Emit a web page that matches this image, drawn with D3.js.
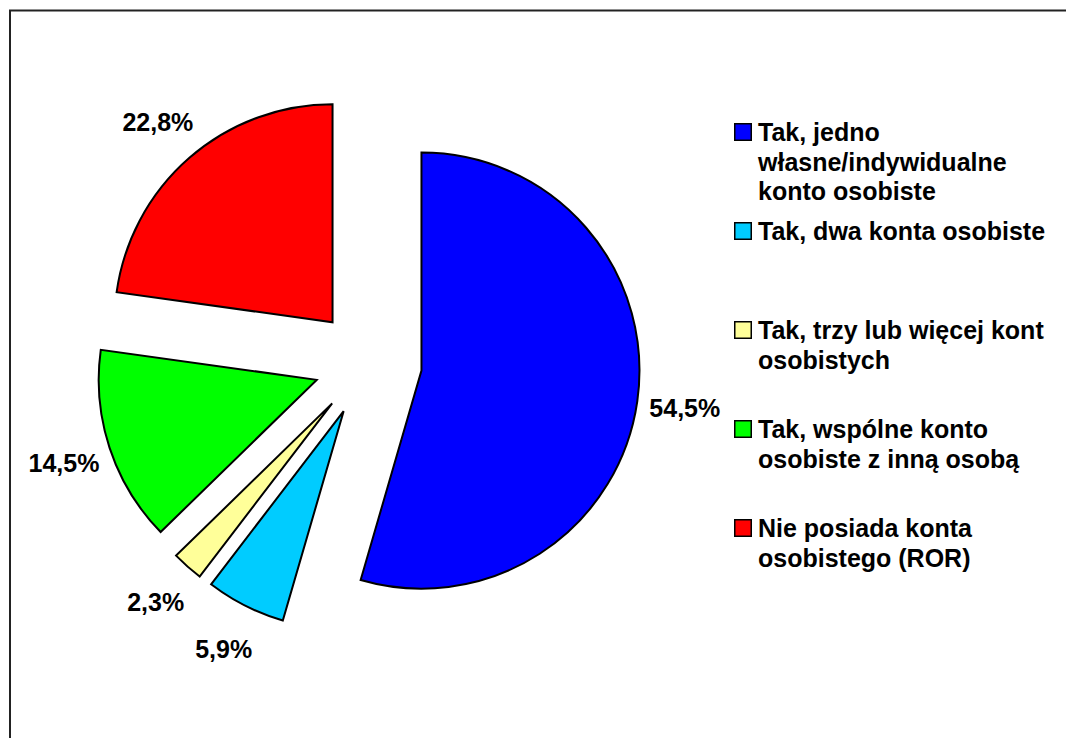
<!DOCTYPE html>
<html>
<head>
<meta charset="utf-8">
<title>Konto osobiste</title>
<script src="https://d3js.org/d3.v7.min.js"></script>
<style>
body { margin: 0; background: #fff; }
svg { display: block; font-family: "Liberation Sans", Arial, sans-serif; font-weight: bold; }
.slice { stroke: #000; stroke-width: 2px; stroke-linejoin: miter; }
.lbl { font-size: 25px; fill: #000; text-anchor: middle; }
.leg text { font-size: 25px; fill: #000; }
.leg rect { stroke: #000; stroke-width: 1.5px; }
</style>
</head>
<body>
<script>
// data
var categories = [
  ["Tak, jedno", "własne/indywidualne", "konto osobiste"],
  ["Tak, dwa konta osobiste"],
  ["Tak, trzy lub więcej kont", "osobistych"],
  ["Tak, wspólne konto", "osobiste z inną osobą"],
  ["Nie posiada konta", "osobistego (ROR)"]
];
var values = [54.5, 5.9, 2.3, 14.5, 22.8];
var valueLabels = ["54,5%", "5,9%", "2,3%", "14,5%", "22,8%"];
var colors = ["#0000FF", "#00CCFF", "#FFFF99", "#00FF00", "#FF0000"];

var width = 1066, height = 738;
var cx = 368, cy = 363, radius = 218, explode = 54, labelRadius = 320;

var svg = d3.select("body").append("svg")
    .attr("width", width)
    .attr("height", height);

// frame (top and left edges visible)
svg.append("path")
    .attr("d", "M10," + height + "V10.5H" + width)
    .attr("fill", "none")
    .attr("stroke", "#222")
    .attr("stroke-width", 2);

var pie = d3.pie().sort(null).value(function(d) { return d; });
var arcs = pie(values);
var arc = d3.arc().innerRadius(0).outerRadius(radius);

var g = svg.append("g").attr("transform", "translate(" + cx + "," + cy + ")");

function dir(d) {
  var a = (d.startAngle + d.endAngle) / 2;
  return [Math.sin(a), -Math.cos(a)];
}

g.selectAll(".slice")
    .data(arcs)
  .enter().append("path")
    .attr("class", "slice")
    .attr("fill", function(d, i) { return colors[i]; })
    .attr("transform", function(d) {
      var v = dir(d);
      return "translate(" + v[0] * explode + "," + v[1] * explode + ")";
    })
    .attr("d", arc);

g.selectAll(".lbl")
    .data(arcs)
  .enter().append("text")
    .attr("class", "lbl")
    .attr("x", function(d) { return dir(d)[0] * labelRadius; })
    .attr("y", function(d) { return dir(d)[1] * labelRadius; })
    .attr("dy", "0.36em")
    .text(function(d, i) { return valueLabels[i]; });

// legend
var legX = 734, legY = 141, legStep = 99, lineH = 29.5;

var leg = svg.selectAll(".leg")
    .data(categories)
  .enter().append("g")
    .attr("class", "leg")
    .attr("transform", function(d, i) { return "translate(" + legX + "," + (legY + i * legStep) + ")"; });

leg.append("rect")
    .attr("x", 0.75)
    .attr("y", -17.25)
    .attr("width", 16.5)
    .attr("height", 16.5)
    .attr("fill", function(d, i) { return colors[i]; });

leg.append("text")
    .attr("x", 24)
    .selectAll("tspan")
    .data(function(d) { return d; })
  .enter().append("tspan")
    .attr("x", 24)
    .attr("y", function(d, j) { return j * lineH; })
    .text(function(d) { return d; });
</script>
</body>
</html>
